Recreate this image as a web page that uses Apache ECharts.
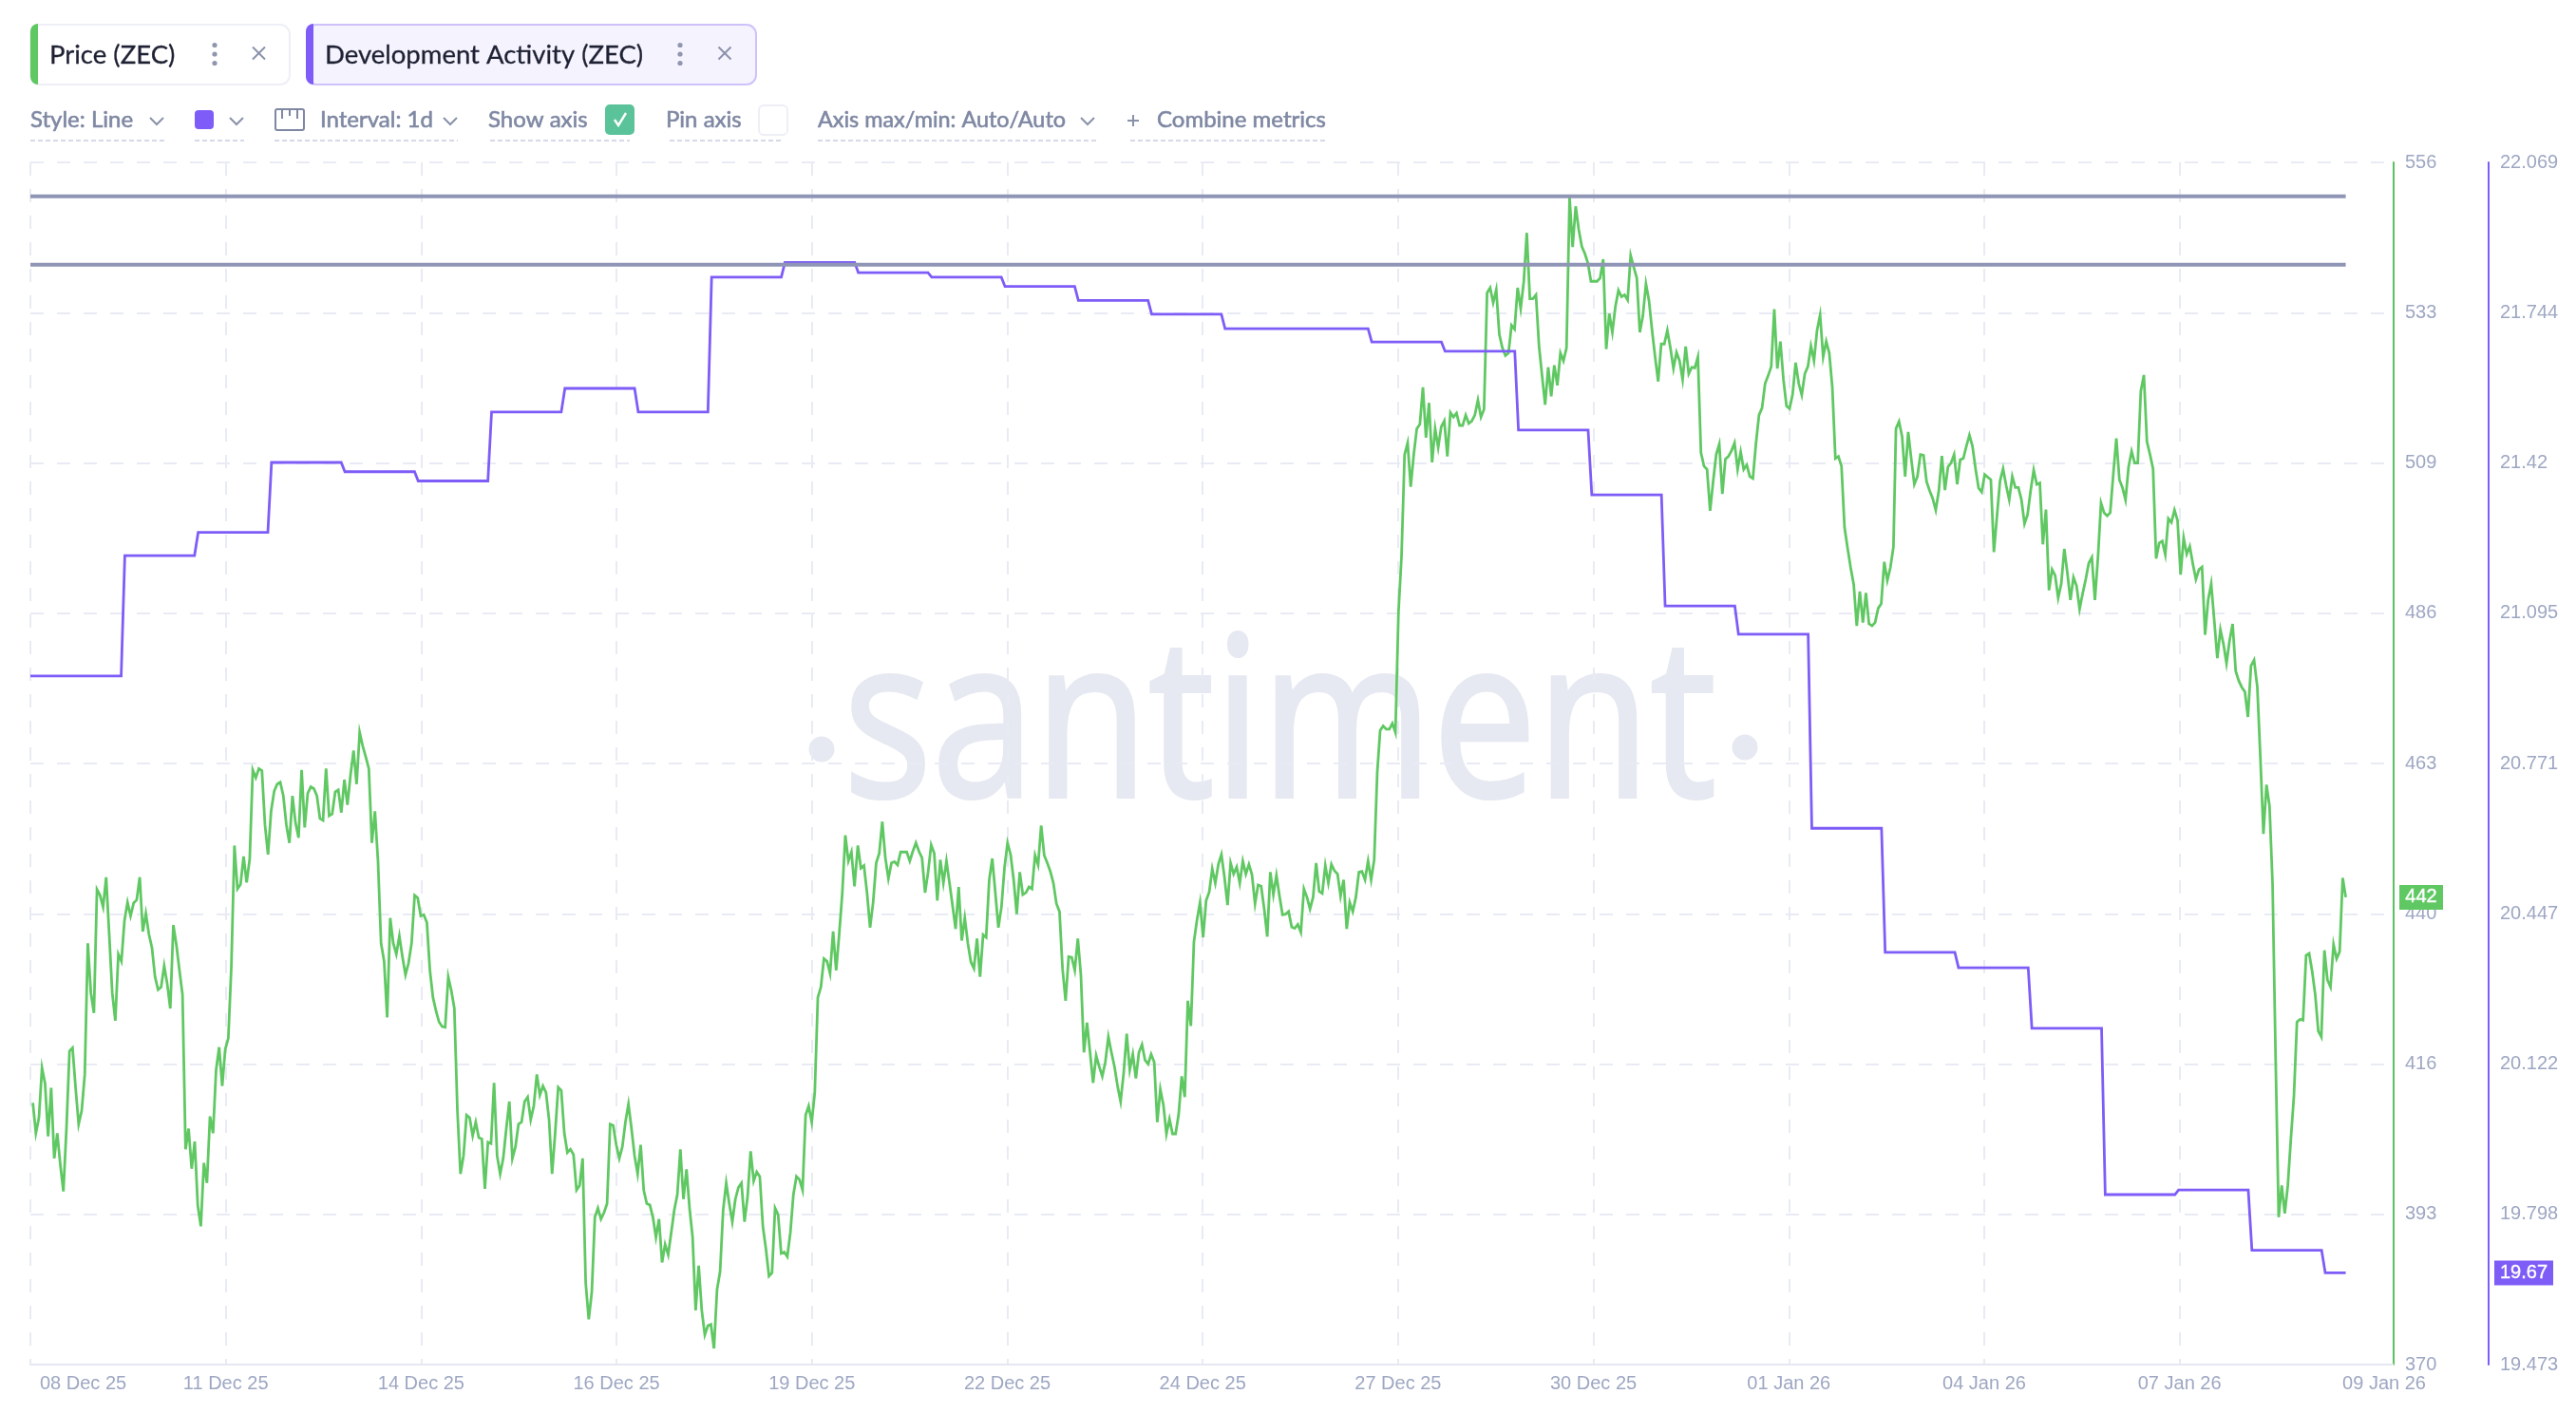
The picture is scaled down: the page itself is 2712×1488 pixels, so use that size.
<!DOCTYPE html>
<html>
<head>
<meta charset="utf-8">
<style>html,body{margin:0;padding:0;background:#fff}#c{width:2712px;height:1488px}</style>
<script src="https://cdn.jsdelivr.net/npm/echarts@6/dist/echarts.min.js"></script>
</head>
<body>
<div id="c"></div>
<script>
// Hourly ZEC price, read in runs. Each run has a first and last hour on the time scale.
const priceRunA = [410.5,405.8,408.2,415.9,413.5,405.3,412.8,401.9,405.8,400.9,396.8,406.5,418.5,419.0,412.8,407.2,409.3,414.9,435.2,427.5,424.4,443.5,442.6,440.8,445.4,436.6,427.5,423.2,433.5,432.4,438.7,441.5,439.4,441.4,441.9,445.4,437.0,439.8,436.6,434.5,430.0,428.0,428.4,431.7,428.9,425.1,438.0,434.9,431.0,427.2,403.3,406.5,400.3,404.5,394.6,391.4,401.2,398.1,408.4,405.8,415.6,419.1,413.1,418.8,420.5,431.7,450.3,443.6,444.3,448.6,444.6,448.2,462.0,460.8,462.2,461.9,453.5,448.9,455.6,458.7,459.8,460.1,458.0,453.5,450.7,458.0,453.8,451.5,462.0,453.1,458.4,459.4,459.1,458.0,454.5,454.2,462.2,454.9,455.2,458.6,458.9,455.4,460.5,456.6,461.2,465.0,459.8,467.8,465.7,464.0,462.2,450.7,455.6,447.9,435.2,432.4,423.7,439.1,435.2,433.5,436.3,433.1,430.3,432.1,435.2,442.6,442.2,439.4,439.6,438.4,431.0,426.8,424.7,423.0,422.3,422.2,430.0,427.9,425.1,409.3,399.5,402.3,408.6,408.2,405.4,407.5,405.1,404.9,397.2,404.4,404.2,413.6,402.3,399.5,401.9,406.5,410.7,401.9,403.7,407.2,407.5,410.7,411.4,407.9,410.0,414.9,411.7,413.1,412.1,407.9,399.5,405.8,412.9,412.4,405.8,402.8,403.3,402.5,397.0,397.7,401.9,382.6,377.0,381.2,392.8,394.2,392.5,393.5,394.9,407.2,407.0,404.0,401.9,403.7,407.5,410.3,406.5,402.3,399.5,404.0,397.0,394.9,394.7,392.8,389.7,392.5,385.8,388.6,387.0,390.4,393.9,396.3,403.3,395.6,400.2,394.2,389.7,378.4,385.3,378.4,374.6,376.0,376.2,372.5,381.6,384.4,393.9,398.1,394.9,392.1,395.6,397.4,398.1,392.1,396.0,403.0,398.4,399.8,399.1,391.4,387.9,383.7,384.2,394.2,393.2,387.2,387.4,386.7,390.4,396.3,399.1,398.6,397.0,408.6,410.0,407.5,412.1,426.8,428.4,432.8,432.4,430.5,437.0,431.0,436.6,442.9,451.9,447.9,449.3,444.0];
const priceRunB = [450.3,446.8,447.2,443.0,437.6,441.5,447.6,449.1,454.0,448.4,445.2,447.6,447.8,447.3,449.3,449.3,449.3,447.9,449.4,450.7,449.4,448.4,443.0,446.2,450.4,449.1,441.8,448.1,444.5,447.9,444.5,441.0,437.4,443.9,435.6,439.1,435.2,432.3,431.3,435.9,430.0,436.5,436.1,445.0,448.3,443.0,437.6,440.8,446.9,450.7,448.9,445.0,439.7,446.2,442.7,443.0,443.9,443.6,448.8,447.3,453.4,448.8,447.6,446.3,444.5,441.3,440.1,431.2,426.3,433.1,433.0,431.0,435.9,430.3,418.3,422.9,418.3,413.6,417.8,416.1,414.6,416.8,420.7,418.3,416.1,413.1,410.7,415.1,421.2,415.6,418.0,414.3,418.3,419.5,417.1,416.5,418.0,416.8,407.5,412.6,410.2,405.7,408.0,405.7,405.7,408.7,414.6,411.4,426.3,422.4,435.4,438.8,441.5,436.1,441.8,443.1,446.7,444.5,447.4,448.9,445.4,441.1,447.6,445.9,447.0,444.5,447.9,445.9,447.4,445.8,441.3,444.2,444.0,440.5,436.2,446.2,442.7,445.7,442.5,439.6,439.7,440.1,437.7,437.5,438.1,436.9,443.6,442.3,440.5,442.3,447.6,443.2,442.9,447.2,444.5,447.4,446.4,445.9,442.5,445.0,437.4,441.5,440.1,442.3,446.2,446.3,445.0,447.9,445.0,448.1,461.6];
const priceRunC = [468.1,468.8,468.3,468.3,469.2,467.8,486.4,495.1,510.8,512.6,505.8,510.8,514.8,515.5,521.2,513.4,518.8,509.6,514.8,511.9,515.1,516.0,510.5,517.3,516.6,517.2,515.3,515.3,516.9,515.6,516.0,516.9,519.2,516.6,517.8,535.8,536.6,534.3,536.3,529.4,527.3,526.1,526.5,530.8,530.2,536.6,533.4,537.5,545.1,534.9,534.9,535.5,527.6,523.0,518.5,524.3,519.8,524.6,521.5,526.5,525.3,527.3,550.6,542.9,549.2,545.6,543.0,541.9,540.4,537.6,537.6,537.6,538.1,541.0,527.1,532.6,529.7,533.7,536.2,535.2,535.5,534.7,541.6,539.8,538.1,529.7,532.3,537.2,534.6,530.0,525.9,522.1,527.9,527.9,530.0,527.3,524.1,526.6,525.3,522.4,527.5,523.3,524.3,524.2,525.9,511.1,509.0,508.5,502.1,506.7,510.8,512.4,504.7,510.1,510.5,511.4,512.6,508.5,511.2,508.5,509.2,507.4,507.1,512.5,516.9,518.0,521.8,523.0,524.4,533.3,524.1,528.3,522.4,518.3,517.9,520.1,525.0,521.8,520.0,523.3,524.4,527.6,525.3,530.0,532.4,525.9,528.3,526.5,521.2,510.2,510.5,509.0,499.5,496.3,493.3,490.7,484.3,489.6,484.8,489.4,484.6,484.3,484.8,487.0,487.7,494.2,491.3,493.3,496.5];
const priceRunD = [514.8,515.9,513.6,507.4,514.3,510.1,506.2,507.4,510.8,510.7,506.6,505.2,504.0,502.2,505.2,510.6,505.3,508.9,509.5,510.8,506.2,510.0,510.2,512.1,513.8,512.1,508.6,505.6,505.0,507.7,507.3,506.9,495.7,501.3,506.7,508.6,506.0,503.8,507.4,505.7,505.7,503.8,500.1,501.5,505.2,508.4,506.2,506.4,496.9,502.3,489.8,493.0,492.1,488.6,490.8,496.2,492.5,488.3,491.8,490.5,486.9,489.3,491.5,494.0,494.9,488.3,494.9,503.3,501.8,501.3,501.8,507.7,513.3,506.9,505.7,503.8,508.9,511.3,509.5,509.5,520.6,523.1,512.8,510.8,508.6,494.7,497.1,497.4,495.3,500.9,500.3,502.2,500.6,492.2,497.9,495.4,496.6,493.9,491.5,493.0,493.4,482.9,488.3,490.8,485.1,479.3,483.7,481.5,478.5,482.0,484.6,477.3,475.8,474.8,474.1,470.2,478.1,479.0];
const priceRunE = [474.8,463.9,452.1,459.7,456.4,444.3,417.4,392.8,397.7,393.4,397.7,404.9,411.5,423.0,423.4,423.3,433.3,433.6,430.8,427.2,421.6,420.7,434.1,429.5,428.4,435.0,432.8,433.9,445.3,442.3];
const priceRunSpans = [[0.8,269.65],[270.75,440.7],[441.65,609.6],[610.43,727.6],[728.67,757.6]];

// Daily development activity levels
const devLevels = [20.960,21.220,21.270,21.421,21.401,21.381,21.530,21.581,21.530,21.821,21.853,21.831,21.821,21.801,21.771,21.741,21.710,21.710,21.681,21.661,21.491,21.351,21.111,21.050,20.631,20.363,20.330,20.199,19.840,19.850,19.720,19.671];

const drawnLevels = [550.75, 540.17];
const lastPriceLabel = '442';
const lastDevLabel = '19.67';

const dateLabels = ['08 Dec 25','11 Dec 25','14 Dec 25','16 Dec 25','19 Dec 25','22 Dec 25','24 Dec 25','27 Dec 25','30 Dec 25','01 Jan 26','04 Jan 26','07 Jan 26','09 Jan 26'];
const dateTickHours = [0,63.93,127.86,191.79,255.72,319.65,383.58,447.51,511.44,575.37,639.3,703.23,770.16];
const priceTickValues = [370,393.25,416.5,439.75,463,486.25,509.5,532.75,556];
const priceTickLabels = ['370','393','416','440','463','486','509','533','556'];
const devTickValues = [19.473,19.7975,20.122,20.4465,20.771,21.0955,21.42,21.7445,22.069];
const devTickLabels = ['19.473','19.798','20.122','20.447','20.771','21.095','21.42','21.744','22.069'];

const firstHour = 0, lastHour = 757.6;
const firstDevChange = 29.7;

function runToPoints(run, span){
  return run.map((v,i)=>[span[0]+i*(span[1]-span[0])/(run.length-1), v]);
}
const priceData = [priceRunA,priceRunB,priceRunC,priceRunD,priceRunE]
  .flatMap((r,i)=>runToPoints(r,priceRunSpans[i]));

const devData = [[firstHour,devLevels[0]]];
for(let k=0;k<devLevels.length-1;k++){
  const t = firstDevChange+24*k;
  devData.push([t,devLevels[k]],[t+1.2,devLevels[k+1]]);
}
devData.push([lastHour,devLevels[devLevels.length-1]]);

const GREEN='#60c863', PURPLE='#7e5cf7', TICK='#9ea7c3', GRID='#e9ebf4', TOOL='#7f88a3', DARK='#1e2133', ICON='#8a92aa', DOT='#d5d9e8';
const UI='Lato, "Open Sans", sans-serif';
const AXISF='"Liberation Sans", Arial, sans-serif';

function txt(text,x,y,size,fill,bold,font,align){
  return {type:'text',z:20,x:x,y:y,style:{text:text,x:0,y:0,fill:fill,
    stroke:bold?fill:'none',lineWidth:bold||0,
    font:'normal '+size+'px '+(font||UI),textAlign:align||'left',textVerticalAlign:'middle'}};
}
function rect(x,y,w,h,r,fill,stroke,lw){
  return {type:'rect',z:19,shape:{x:x,y:y,width:w,height:h,r:r},style:{fill:fill||'none',stroke:stroke||'none',lineWidth:lw||0}};
}
function seg(x1,y1,x2,y2,stroke,lw,dash){
  return {type:'line',z:20,shape:{x1:x1,y1:y1,x2:x2,y2:y2},style:{stroke:stroke,lineWidth:lw,lineDash:dash||null,fill:'none'}};
}
function chevron(x,y){
  return {type:'polyline',z:20,shape:{points:[[x-7,y-3],[x,y+4],[x+7,y-3]]},style:{stroke:ICON,lineWidth:2,fill:'none'}};
}
function under(x1,x2){ return seg(x1,148,x2,148,DOT,2,[5,3]); }
function dots(x){
  return [47.5,57,66.5].map(y=>({type:'circle',z:20,shape:{cx:x,cy:y,r:2.6},style:{fill:'#8f96ae'}}));
}
function cross(x,y){
  const s=6.5;
  return [seg(x-s,y-s,x+s,y+s,ICON,2),seg(x-s,y+s,x+s,y-s,ICON,2)];
}
const chrome = [
  // watermark
  {type:'text',z:0,x:888,y:772,scaleX:0.83,style:{text:'santiment',x:0,y:0,fill:'#e6e9f1',stroke:'#e6e9f1',lineWidth:4,font:'normal 235px "Open Sans", sans-serif',textAlign:'left',textVerticalAlign:'middle'}},
  {type:'circle',z:0,shape:{cx:865,cy:789,r:13.5},style:{fill:'#e6e9f1'}},
  {type:'circle',z:0,shape:{cx:1837,cy:787,r:13.5},style:{fill:'#e6e9f1'}},
  // bottom axis reaches the price axis
  seg(2510,1437,2520,1437,'#e6e8f1',2),
  // pills
  rect(32,26,273,63,10,'#fff','#eeeff6',2),
  rect(32,25,8,64,[10,0,0,10],GREEN),
  txt('Price (ZEC)',52,58,27.5,DARK,0.3),
  ...dots(226),...cross(272.5,56),
  rect(323,26,473,63,10,'#f5f3fe','#cfc2fb',2),
  rect(322,25,8,64,[10,0,0,10],PURPLE),
  txt('Development Activity (ZEC)',342,58,27.5,DARK,0.3),
  ...dots(716),...cross(763,56),
  // toolbar
  txt('Style: Line',32,126,24,TOOL,0.6),chevron(165,127),under(32,173),
  rect(205,116,20,20,4,PURPLE),chevron(249,127),under(205,257),
  rect(290,115,30,22,2,'none',TOOL,2),seg(297,115,297,125,TOOL,2),seg(305,115,305,122,TOOL,2),seg(313,115,313,125,TOOL,2),
  txt('Interval: 1d',337,126,24,TOOL,0.6),chevron(474,127),under(289,482),
  txt('Show axis',514,126,24,TOOL,0.6),rect(637,110,31,32,5,'#5ac39a'),
  {type:'polyline',z:21,shape:{points:[[647,126],[651,132],[659,119]]},style:{stroke:'#fff',lineWidth:2.4,fill:'none'}},under(516,663),
  txt('Pin axis',701,126,24,TOOL,0.6),rect(799,111,30,31,5,'#fff','#eeeff6',2),under(705,825),
  txt('Axis max/min: Auto/Auto',861,126,23.4,TOOL,0.6),chevron(1145,127),under(861,1154),
  seg(1187,127,1199,127,ICON,2),seg(1193,121,1193,133,ICON,2),
  txt('Combine metrics',1218,126,24,TOOL,0.6),under(1190,1397)
];

const chart = echarts.init(document.getElementById('c'),null,{width:2712,height:1488,renderer:'canvas'});
chart.setOption({
  animation:false,
  backgroundColor:'#fff',
  grid:{left:32,right:202,top:171,bottom:51,containLabel:false},
  xAxis:{type:'value',min:0,max:770.16,
    axisLine:{show:true,onZero:false,lineStyle:{color:'#e6e8f1',width:2}},
    axisTick:{show:false,customValues:dateTickHours},
    splitLine:{show:true,showMaxLine:false,lineStyle:{color:GRID,width:2,type:[14,14]}},
    axisLabel:{customValues:dateTickHours,color:TICK,fontSize:20,fontFamily:AXISF,margin:10,alignMinLabel:'left',
      formatter:(v)=>{const i=dateTickHours.indexOf(v);const s=dateLabels[i];return i===0?'{f|'+s+'}':s;},
      rich:{f:{padding:[0,0,0,10],color:TICK,fontSize:20,fontFamily:AXISF}}}},
  yAxis:[
    {type:'value',position:'right',offset:10,min:370,max:556,
      axisLine:{show:true,onZero:false,lineStyle:{color:'#5dc061',width:2}},
      axisTick:{show:false,customValues:priceTickValues},
      splitLine:{show:true,lineStyle:{color:GRID,width:2,type:[14,14]}},
      axisLabel:{customValues:priceTickValues,color:TICK,fontSize:20,fontFamily:AXISF,margin:12,
        formatter:(v)=>priceTickLabels[priceTickValues.indexOf(v)]}},
    {type:'value',position:'right',offset:110,min:19.473,max:22.069,
      axisLine:{show:true,onZero:false,lineStyle:{color:PURPLE,width:2}},
      axisTick:{show:false,customValues:devTickValues},
      splitLine:{show:false},
      axisLabel:{customValues:devTickValues,color:TICK,fontSize:20,fontFamily:AXISF,margin:12,
        formatter:(v)=>devTickLabels[devTickValues.indexOf(v)]}}
  ],
  series:[
    {name:'Price (ZEC)',type:'line',yAxisIndex:0,data:priceData,showSymbol:false,sampling:null,
      lineStyle:{color:GREEN,width:2.8,join:'miter',cap:'butt',miterLimit:8},z:3},
    {name:'Development Activity (ZEC)',type:'line',yAxisIndex:1,data:devData,showSymbol:false,
      lineStyle:{color:PURPLE,width:2.8,join:'miter'},z:4},
    ...drawnLevels.map((lv,i)=>({name:'Level '+(i+1),type:'line',yAxisIndex:0,
      data:[[firstHour,lv],[lastHour,lv]],showSymbol:false,lineStyle:{color:'#8f95b5',width:4},z:5}))
  ],
  graphic:{elements:chrome}
});
const lastPriceY = chart.convertToPixel({yAxisIndex:0},priceRunE[priceRunE.length-1]);
const lastDevY = chart.convertToPixel({yAxisIndex:1},devLevels[devLevels.length-1]);
chart.setOption({graphic:{elements:chrome.concat([
  rect(2526,lastPriceY-13,46,26,0,GREEN),
  txt(lastPriceLabel,2549,lastPriceY,20,'#fff',0.4,AXISF,'center'),
  rect(2626,lastDevY-13,62,26,0,PURPLE),
  txt(lastDevLabel,2657,lastDevY,20,'#fff',0.4,AXISF,'center')
])}});
</script>
</body>
</html>
